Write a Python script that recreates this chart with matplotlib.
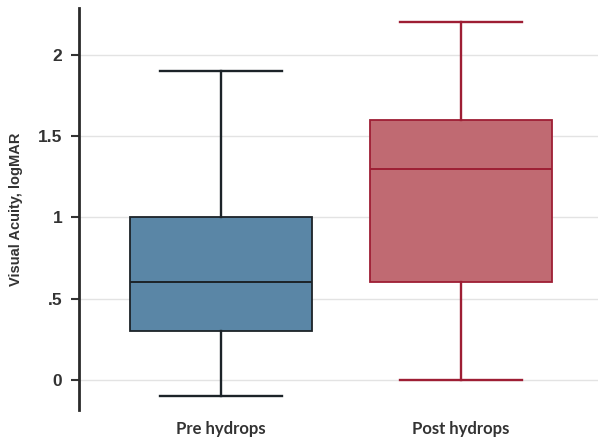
import matplotlib
matplotlib.use("Agg")
import matplotlib.pyplot as plt

groups = ["Pre hydrops", "Post hydrops"]
whislo = [-0.1, 0.0]
q1 = [0.3, 0.6]
med = [0.6, 1.3]
q3 = [1.0, 1.6]
whishi = [1.9, 2.2]
yticks = [0, 0.5, 1, 1.5, 2]
ytick_labels = ["0", ".5", "1", "1.5", "2"]

fills = ["#5a86a6", "#c06a72"]
edges = ["#1c2328", "#9e1e34"]

plt.rcParams['font.family'] = ['Liberation Sans', 'DejaVu Sans']

fig = plt.figure(figsize=(5.98, 4.37), dpi=100)
ax = fig.add_axes([0.132, 0.062, 0.868, 0.92])

for i in range(len(groups)):
    stats = [{"whislo": whislo[i], "q1": q1[i], "med": med[i], "q3": q3[i],
              "whishi": whishi[i], "fliers": [], "label": groups[i]}]
    ec = edges[i]
    ax.bxp(stats, positions=[i + 1], widths=0.758, capwidths=0.508,
           patch_artist=True, showfliers=False,
           boxprops=dict(facecolor=fills[i], edgecolor=ec, linewidth=1.3),
           medianprops=dict(color=ec, linewidth=1.4),
           whiskerprops=dict(color=ec, linewidth=1.7),
           capprops=dict(color=ec, linewidth=1.7))

ax.set_xlim(0.408, 2.571)
ax.set_ylim(-0.185, 2.29)
ax.set_xticks([1, 2])
ax.set_xticklabels(groups, fontsize=12, fontweight='bold', color='#333333',
                   family=['Lato', 'DejaVu Sans'])
ax.set_yticks(yticks)
ax.set_yticklabels(ytick_labels, fontsize=12.5, fontweight='bold', color='#333333')
ax.tick_params(axis='x', length=0, pad=8)
ax.tick_params(axis='y', length=6, width=1.5, color='#333333', pad=6)
ax.yaxis.grid(True, color='#e3e3e3', linewidth=1)
ax.set_axisbelow(True)
for s in ['top', 'right', 'bottom']:
    ax.spines[s].set_visible(False)
ax.spines['left'].set_linewidth(2)
ax.spines['left'].set_color('#2a2a2a')
ax.set_ylabel("Visual Acuity, logMAR", fontsize=10.5, fontweight='bold',
              color='#333333', labelpad=11)

fig.savefig("out.png", dpi=100)
